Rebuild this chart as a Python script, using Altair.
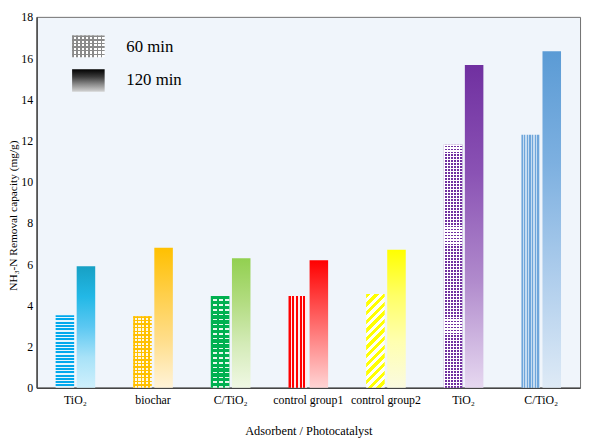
import math
import altair as alt
import pandas as pd

# ---------------- data ----------------
categories = ["TiO₂|a", "biochar|a", "C/TiO₂|a", "control group1|a",
              "control group2|a", "TiO₂|p", "C/TiO₂|p"]
times = ["60", "120"]
values_60 = [3.52, 3.47, 4.45, 4.45, 4.55, 11.81, 12.28]
values_120 = [5.90, 6.80, 6.28, 6.19, 6.70, 15.67, 16.33]
y_ticks = [0, 2, 4, 6, 8, 10, 12, 14, 16, 18]

rows = []
for c, v6, v12 in zip(categories, values_60, values_120):
    rows.append({"cat": c, "time": "60", "value": v6, "key": c + "#60"})
    rows.append({"cat": c, "time": "120", "value": v12, "key": c + "#120"})
df = pd.DataFrame(rows)

# ---------------- layout / style ----------------
W, H, YMAX = 551, 376, 18
P_IN, P_SUB = 0.49, 0.12
step = W / len(categories)
band = step * (1 - P_IN)
bar_w = band / (2 - P_SUB) * (1 - P_SUB)
SERIF = "Liberation Serif"
CLEAR = "rgba(255,255,255,0)"


def bar_h(v):
    return v * H / YMAX


def stripe_stops(c1, c2, n, frac):
    n = max(1, int(round(n)))
    st = []
    for i in range(n):
        a, b, c = i / n, (i + frac) / n, (i + 1) / n
        st += [(a, c1), (b, c1), (b, c2), (c, c2)]
    return [alt.GradientStop(offset=round(o, 5), color=col) for o, col in st]


def grad(stops, x2=0.0, y2=1.0):
    return alt.LinearGradient(gradient="linear", stops=stops, x1=0, y1=0, x2=x2, y2=y2)


def hstripes(c1, c2, h, period, frac):
    return grad(stripe_stops(c1, c2, h / period, frac), 0, 1)


def vstripes(c1, c2, w, period, frac):
    return grad(stripe_stops(c1, c2, w / period, frac), 1, 0)


def dstripes(c1, c2, w, h, period, frac):
    k = (w + h) / (w * w + h * h)
    n = (w + h) / (math.sqrt(2) * period)
    return grad(stripe_stops(c1, c2, n, frac), w * k, h * k)


def vgrad(colors):
    n = len(colors) - 1
    return grad([alt.GradientStop(offset=i / n, color=c) for i, c in enumerate(colors)], 0, 1)


h60 = [bar_h(v) for v in values_60]

fills = {
    # 60 min (patterned)
    categories[0] + "#60": [hstripes("#00A8EC", "#E4F5FD", h60[0], 3.3, 0.6)],
    categories[1] + "#60": ["#FFF8E4",
                            vstripes("#FFC000", CLEAR, bar_w, 3.6, 0.4),
                            hstripes("#FFC000", CLEAR, h60[1], 3.6, 0.4)],
    categories[2] + "#60": ["#00B050",
                            hstripes(CLEAR, "#E8F8EE", h60[2], 5.0, 0.7),
                            vstripes("#00B050", CLEAR, bar_w, 6.0, 0.3)],
    categories[3] + "#60": [vstripes("#FF0000", "#FFECEC", bar_w, 3.6, 0.55)],
    categories[4] + "#60": [dstripes("#FFFF00", "#FFFFF4", bar_w, h60[4], 6.0, 0.5)],
    categories[5] + "#60": ["#7030A0",
                            hstripes("#FFFFFF", CLEAR, h60[5], 3.0, 0.4),
                            vstripes("#FFFFFF", CLEAR, bar_w, 3.0, 0.4)],
    categories[6] + "#60": [vstripes("#6FA6DB", "#C6DCF1", bar_w, 2.6, 0.45)],
    # 120 min (gradients)
    categories[0] + "#120": [vgrad(["#17A0C4", "#22B8E6", "#5CC8F2", "#A8E2F8", "#CFF0FC"])],
    categories[1] + "#120": [vgrad(["#FFC000", "#FFCF4A", "#FFDE8C", "#FFF3D8"])],
    categories[2] + "#120": [vgrad(["#92D050", "#B2DC80", "#D4EBB8", "#F0F8E4"])],
    categories[3] + "#120": [vgrad(["#FF0000", "#FF4848", "#FF9090", "#FFD4D4"])],
    categories[4] + "#120": [vgrad(["#FFFF00", "#FFFF66", "#FFFFB0", "#FAFAE0"])],
    categories[5] + "#120": [vgrad(["#7030A0", "#8A52B4", "#B08ACC", "#E6D8F0"])],
    categories[6] + "#120": [vgrad(["#5B9BD5", "#7DB0E0", "#AECDEC", "#DEEAF6"])],
}

x_enc = alt.X(
    "cat:N", sort=categories,
    scale=alt.Scale(paddingInner=P_IN, paddingOuter=P_IN / 2),
    axis=alt.Axis(
        title="Adsorbent / Photocatalyst",
        labelExpr="split(datum.label, '|')[0]",
        labelAngle=0, ticks=False, labelPadding=7,
        labelFont=SERIF, labelFontSize=12, labelColor="#000000",
        titleFont=SERIF, titleFontSize=12.5, titleFontWeight="normal",
        titleColor="#000000", titleY=43, titleBaseline="middle",
        domainColor="#444444", domainWidth=1.5,
    ),
)
xo_enc = alt.XOffset("time:N", sort=times, scale=alt.Scale(paddingInner=P_SUB))
y_enc = alt.Y(
    "value:Q",
    scale=alt.Scale(domain=[0, YMAX], nice=False, zero=True),
    axis=alt.Axis(
        values=y_ticks, ticks=False, grid=False, labelPadding=4,
        labelFont=SERIF, labelFontSize=12, labelColor="#000000",
        title="NH₃-N Removal capacity (mg/g)",
        titleFont=SERIF, titleFontSize=11.5, titleFontWeight="normal",
        titleColor="#000000", titleX=-23, titleY=201,
        titleAlign="center", titleBaseline="middle", titleAngle=-90,
        domainColor="#444444", domainWidth=1.5,
    ),
)

layers = []
for key, flist in fills.items():
    for f in flist:
        layers.append(
            alt.Chart(df).transform_filter(alt.datum.key == key)
            .mark_bar(fill=f)
            .encode(x=x_enc, xOffset=xo_enc, y=y_enc)
        )

# ---------------- legend ----------------
one = pd.DataFrame({"k": [0]})
leg_boxes = [
    ("#FFFFFF", 19, 41),
    (vstripes("#8A8A8A", CLEAR, 33, 4.0, 0.35), 19, 41),
    (hstripes("#8A8A8A", CLEAR, 22, 4.0, 0.35), 19, 41),
    (vgrad(["#000000", "#3A3A3A", "#8A8A8A", "#D4D4D4"]), 53, 76),
]
for f, y1, y2 in leg_boxes:
    layers.append(
        alt.Chart(one).mark_rect(fill=f).encode(
            x=alt.value(36), x2=alt.value(69), y=alt.value(y1), y2=alt.value(y2))
    )
for txt, yy in [("60 min", 31), ("120 min", 64)]:
    layers.append(
        alt.Chart(one).mark_text(text=txt, align="left", baseline="middle",
                                 font=SERIF, fontSize=17, color="#000000")
        .encode(x=alt.value(91), y=alt.value(yy))
    )

chart = (
    alt.layer(*layers)
    .properties(width=W, height=H,
                padding={"left": 29, "top": 6, "right": 3, "bottom": 50},
                autosize=alt.AutoSizeParams(type="none"))
    .configure_view(fill="#F0F5FB", stroke="#6F6F6F", strokeWidth=1)
)

chart.save("out.html", embed_options={"renderer": "svg", "actions": False})
